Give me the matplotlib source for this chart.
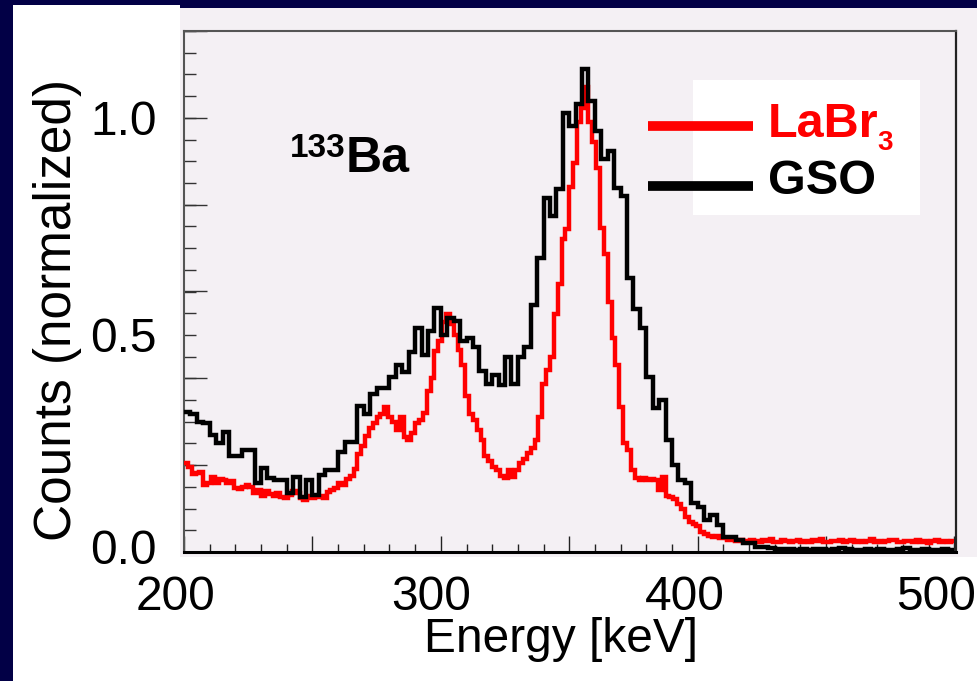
import numpy as np
import matplotlib
matplotlib.use("Agg")
import matplotlib.pyplot as plt
from matplotlib.patches import Rectangle
from matplotlib.lines import Line2D
from matplotlib.ticker import MultipleLocator, FuncFormatter, NullFormatter
from matplotlib.transforms import ScaledTranslation

plt.rcParams['font.family'] = ['Liberation Sans', 'DejaVu Sans']

# Energy window of both spectra [keV]
E_MIN, E_MAX = 200.0, 500.0

# GSO spectrum, 2.5 keV bins (normalized counts)
gso_counts = [
    0.322, 0.318, 0.300, 0.296, 0.269, 0.250, 0.276, 0.220, 0.220, 0.234,
    0.234, 0.158, 0.193, 0.170, 0.166, 0.166, 0.135, 0.173, 0.127, 0.166,
    0.131, 0.177, 0.189, 0.189, 0.230, 0.253, 0.253, 0.336, 0.318, 0.365,
    0.377, 0.377, 0.402, 0.430, 0.414, 0.460, 0.517, 0.453, 0.510, 0.561,
    0.500, 0.540, 0.533, 0.487, 0.494, 0.472, 0.418, 0.388, 0.407, 0.384,
    0.448, 0.388, 0.448, 0.472, 0.568, 0.678, 0.816, 0.775, 0.837, 1.011,
    0.982, 1.032, 1.113, 1.039, 0.970, 0.906, 0.924, 0.839, 0.820, 0.630,
    0.560, 0.515, 0.402, 0.331, 0.349, 0.257, 0.200, 0.166, 0.158, 0.112,
    0.104, 0.074, 0.085, 0.062, 0.035, 0.035, 0.028, 0.020, 0.020, 0.012,
    0.012, 0.010, 0.008, 0.006, 0.008, 0.005, 0.006, 0.004, 0.006, 0.008,
    0.005, 0.006, 0.010, 0.006, 0.005, 0.004, 0.006, 0.005, 0.007, 0.004,
    0.005, 0.006, 0.010, 0.005, 0.004, 0.006, 0.004, 0.005, 0.006, 0.005,
]

# LaBr3 spectrum, 1.5 keV bins (normalized counts)
labr_counts = [
    0.205, 0.195, 0.180, 0.182, 0.185, 0.154, 0.160, 0.172, 0.158, 0.168,
    0.165, 0.160, 0.163, 0.148, 0.145, 0.150, 0.154, 0.150, 0.136, 0.142,
    0.130, 0.140, 0.133, 0.128, 0.136, 0.127, 0.124, 0.131, 0.140, 0.135,
    0.124, 0.120, 0.128, 0.124, 0.127, 0.130, 0.125, 0.138, 0.142, 0.148,
    0.160, 0.155, 0.168, 0.175, 0.192, 0.226, 0.245, 0.268, 0.285, 0.298,
    0.310, 0.318, 0.334, 0.310, 0.300, 0.280, 0.310, 0.265, 0.257, 0.275,
    0.296, 0.305, 0.320, 0.370, 0.400, 0.464, 0.487, 0.530, 0.549, 0.526,
    0.500, 0.465, 0.430, 0.360, 0.318, 0.303, 0.280, 0.258, 0.222, 0.210,
    0.195, 0.190, 0.175, 0.170, 0.188, 0.172, 0.190, 0.205, 0.215, 0.228,
    0.240, 0.257, 0.310, 0.388, 0.420, 0.450, 0.549, 0.618, 0.720, 0.745,
    0.840, 0.897, 0.990, 1.023, 1.070, 0.990, 0.945, 0.885, 0.747, 0.687,
    0.575, 0.494, 0.430, 0.334, 0.250, 0.234, 0.189, 0.170, 0.166, 0.170,
    0.166, 0.168, 0.165, 0.142, 0.173, 0.130, 0.127, 0.122, 0.110, 0.100,
    0.080, 0.070, 0.065, 0.060, 0.046, 0.042, 0.038, 0.035, 0.036, 0.033,
    0.032, 0.028, 0.029, 0.026, 0.027, 0.026, 0.024, 0.028, 0.025, 0.022,
    0.027, 0.025, 0.029, 0.024, 0.023, 0.027, 0.026, 0.022, 0.025, 0.028,
    0.024, 0.026, 0.023, 0.027, 0.025, 0.030, 0.024, 0.022, 0.026, 0.025,
    0.028, 0.023, 0.025, 0.027, 0.024, 0.026, 0.022, 0.025, 0.029, 0.024,
    0.026, 0.023, 0.025, 0.027, 0.028, 0.024, 0.022, 0.026, 0.025, 0.023,
    0.027, 0.024, 0.026, 0.021, 0.025, 0.028, 0.024, 0.026, 0.023, 0.025,
]

series_labels = ["LaBr", "GSO"]
x_title = "Energy [keV]"
y_title = "Counts (normalized)"
isotope = ("133", "Ba")

gso_edges = np.linspace(E_MIN, E_MAX, len(gso_counts) + 1)
labr_edges = np.linspace(E_MIN, E_MAX, len(labr_counts) + 1)

W, H = 977, 681
NAVY = "#020046"
PANEL = "#f4f0f4"

fig = plt.figure(figsize=(W / 100, H / 100), dpi=100)
fig.patch.set_facecolor(NAVY)


def px_box(x0, y0, x1, y1):
    """Figure-fraction rectangle from pixel corners (y measured from top)."""
    return (x0 / W, 1 - y1 / H), (x1 - x0) / W, (y1 - y0) / H


for x0, y0, x1, y1, col in [(13, 5, 180, 681, "white"),
                            (13, 557, 977, 681, "white"),
                            (180, 8, 977, 557, PANEL)]:
    xy, w, h = px_box(x0, y0, x1, y1)
    fig.add_artist(Rectangle(xy, w, h, transform=fig.transFigure,
                             facecolor=col, edgecolor="none", zorder=-5))

ax = fig.add_axes([184 / W, 1 - 552 / H, (956 - 184) / W, (552 - 31) / H])
ax.set_facecolor(PANEL)

ax.stairs(labr_counts, labr_edges, color="#ff0000", lw=3.2, baseline=None, zorder=3)
ax.stairs(gso_counts, gso_edges, color="black", lw=3.2, baseline=None, zorder=4)

ax.set_xlim(E_MIN, 500.6)
ax.set_ylim(0, 1.2)

# spines
for side in ("left", "top"):
    ax.spines[side].set_color("#555555")
    ax.spines[side].set_linewidth(1.5)
ax.spines["right"].set_color("#222222")
ax.spines["right"].set_linewidth(1.6)
ax.spines["bottom"].set_color("black")
ax.spines["bottom"].set_linewidth(2.2)

# x ticks: long every 50 keV, short every 10 keV, labels every 100 keV
ax.xaxis.set_major_locator(MultipleLocator(50))
ax.xaxis.set_minor_locator(MultipleLocator(10))
ax.xaxis.set_major_formatter(
    FuncFormatter(lambda v, p: f"{v:.0f}" if abs(v % 100) < 1e-6 else ""))
ax.xaxis.set_minor_formatter(NullFormatter())

# y ticks: long every 0.2, short every 0.05, labels at 0.0 / 0.5 / 1.0
ax.yaxis.set_major_locator(MultipleLocator(0.2))
ax.yaxis.set_minor_locator(MultipleLocator(0.05))
ax.yaxis.remove_overlapping_locs = False
ax.yaxis.set_major_formatter(NullFormatter())
ax.yaxis.set_minor_formatter(
    FuncFormatter(lambda v, p: f"{v:.1f}"
                  if min(abs(v - t) for t in (0.0, 0.5, 1.0)) < 1e-6 else ""))

ax.tick_params(axis="x", which="major", direction="in", length=11.5, width=1.0,
               color="#222222", labelsize=34.5, pad=16.5, top=False)
ax.tick_params(axis="x", which="minor", direction="in", length=5.8, width=1.0,
               color="#222222", top=False)
ax.tick_params(axis="y", which="major", direction="in", length=16.6, width=1.0,
               color="#333333", right=False)
ax.tick_params(axis="y", which="minor", direction="in", length=8.6, width=1.0,
               color="#333333", labelsize=34.5, pad=19.5, right=False)

# nudge tick labels (pixel offsets)
x_shift = {200: -8, 300: -10, 400: -13, 500: -18}
for tick, loc in zip(ax.xaxis.get_major_ticks(), ax.xaxis.get_majorticklocs()):
    dx = x_shift.get(int(round(loc)), 0)
    lab = tick.label1
    lab.set_transform(lab.get_transform() + ScaledTranslation(dx / 100, 0, fig.dpi_scale_trans))
for tick, loc in zip(ax.yaxis.get_minor_ticks(), ax.yaxis.get_minorticklocs()):
    if abs(loc) < 1e-6:
        lab = tick.label1
        lab.set_transform(lab.get_transform() + ScaledTranslation(0, 6 / 100, fig.dpi_scale_trans))

# axis titles
fig.text(561 / W, 1 - 652 / H, x_title, ha="center", va="baseline", fontsize=34.5)
fig.text(71 / W, 1 - 310 / H, y_title, rotation=90, rotation_mode="anchor",
         ha="center", va="baseline", fontsize=37)

# isotope tag
ax.text(0.1373, 0.7582, isotope[0], transform=ax.transAxes, fontsize=24,
        fontweight="bold", va="baseline", ha="left")
ax.text(0.2098, 0.7294, isotope[1], transform=ax.transAxes, fontsize=36,
        fontweight="bold", va="baseline", ha="left")

# legend box
ax.add_patch(Rectangle((0.6593, 0.6468), 0.2941, 0.2592, transform=ax.transAxes,
                       facecolor="white", edgecolor="none", zorder=5))
ax.add_line(Line2D([0.601, 0.737], [0.8186, 0.8186], transform=ax.transAxes,
                   color="#ff0000", lw=7, solid_capstyle="butt", zorder=6))
ax.add_line(Line2D([0.601, 0.737], [0.7025, 0.7025], transform=ax.transAxes,
                   color="black", lw=7, solid_capstyle="butt", zorder=6))
ax.text(0.7565, 0.7965, series_labels[0], transform=ax.transAxes, color="#ff0000",
        fontsize=35, fontweight="bold", va="baseline", ha="left", zorder=7)
ax.text(0.898, 0.7716, "3", transform=ax.transAxes, color="#ff0000",
        fontsize=20, fontweight="bold", va="baseline", ha="left", zorder=7)
ax.text(0.7565, 0.6871, series_labels[1], transform=ax.transAxes, color="black",
        fontsize=35, fontweight="bold", va="baseline", ha="left", zorder=7)

fig.savefig("out.png", dpi=100, facecolor=fig.get_facecolor())
